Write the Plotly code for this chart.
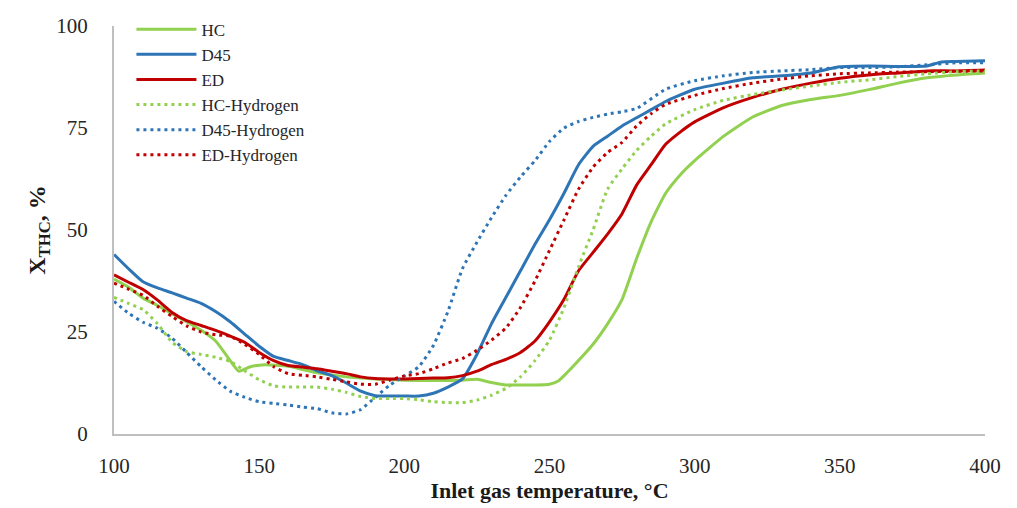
import plotly.graph_objects as go

# Inlet gas temperature (°C) and THC conversion (%) for each fuel
hc_t = [100, 105, 110, 115, 120, 125, 130, 135, 140, 143, 147, 152, 160, 170, 180, 190, 200, 210, 220, 225,
        230, 235, 240, 245, 250, 253, 256, 260, 265, 270, 275, 280, 285, 290, 295, 300, 310, 320, 330, 340,
        350, 360, 370, 380, 390, 400]
hc_x = [38, 36, 33.3, 31.5, 29.5, 27.5, 25.4, 22.8, 18, 15.4, 16.5, 17, 16.6, 15, 14, 13.5, 13.2, 13.1, 13.2, 13.4,
        12.6, 12, 12, 12, 12.2, 13, 15, 18, 22, 27, 33, 43, 52, 59, 63.5, 67, 73, 77.7, 80.5, 82,
        83, 84.4, 86, 87.3, 88, 88.5]

d45_t = [100, 105, 110, 115, 120, 125, 130, 135, 140, 145, 150, 155, 160, 165, 170, 175, 180, 185, 190, 195,
         200, 205, 210, 215, 220, 225, 230, 235, 240, 245, 250, 255, 260, 265, 270, 275, 280, 285, 290, 300,
         310, 320, 330, 340, 350, 360, 370, 380, 385, 390, 400]
d45_x = [44, 40.5, 37.3, 35.8, 34.6, 33.3, 32, 30, 27.5, 24.5, 21.5, 19, 18, 17, 15.5, 14.3, 12.5, 10.5, 9.4, 9.3,
         9.3, 9.3, 10, 11.5, 13.5, 19.5, 27, 33.5, 40, 46.5, 52.5, 59, 66, 70.5, 73, 75.5, 77.5, 79.5, 81.5, 84.5,
         86, 87.3, 87.8, 88.5, 90, 90.2, 90.1, 90.2, 91.2, 91.3, 91.5]

ed_t = [100, 105, 110, 115, 120, 125, 130, 135, 140, 145, 150, 155, 160, 165, 170, 175, 180, 185, 190, 195,
        200, 205, 210, 215, 220, 225, 230, 235, 240, 245, 250, 255, 260, 265, 270, 275, 280, 285, 290, 295,
        300, 310, 320, 330, 340, 350, 360, 370, 380, 390, 400]
ed_x = [39, 37.2, 35.4, 32.8, 29.8, 27.8, 26.6, 25.4, 24, 22.5, 20, 18, 16.8, 16.4, 16, 15.4, 14.8, 14, 13.6, 13.5,
        13.5, 13.6, 13.7, 13.8, 14.3, 15.4, 17, 18.3, 20, 22.8, 27.5, 33, 40, 44.5, 49, 54, 61, 66, 71, 74,
        76.5, 80, 82.5, 84.5, 86, 87.2, 88, 88.5, 89, 89, 89.2]

hch_t = [100, 105, 110, 115, 120, 125, 130, 135, 140, 145, 150, 155, 160, 165, 170, 175, 180, 185, 190, 195,
         200, 205, 210, 215, 220, 225, 230, 235, 240, 245, 250, 255, 260, 265, 270, 275, 280, 285, 290, 300,
         310, 320, 330, 340, 350, 360, 370, 380, 390, 400]
hch_x = [33.5, 32, 30.5, 27, 22.5, 20.2, 19.5, 18.8, 17.8, 15.5, 13.3, 11.8, 11.5, 11.5, 11.5, 11, 10.2, 9.2, 8.7, 8.7,
         8.7, 8.4, 7.9, 7.7, 7.7, 8.3, 9.5, 11.2, 14, 18, 23, 31, 41, 50, 60, 65, 69.5, 73, 76, 79.5,
         81.8, 83.2, 84.3, 85.3, 86.2, 86.8, 87.6, 88.3, 88.8, 89]

d45h_t = [100, 105, 110, 115, 120, 125, 130, 135, 140, 145, 150, 155, 160, 165, 170, 175, 180, 185, 190, 195,
          200, 205, 210, 215, 220, 225, 230, 235, 240, 245, 250, 255, 260, 265, 270, 275, 280, 290, 300, 310,
          320, 330, 340, 350, 360, 370, 380, 390, 400]
d45h_x = [32.5, 29.6, 27.4, 25.9, 23.5, 20, 16.5, 13.3, 10.5, 9, 7.9, 7.5, 7.1, 6.6, 6.2, 5.2, 4.9, 6, 9, 12,
          14.2, 16.5, 21.7, 30, 40.5, 47, 53, 58.5, 63, 67, 71.7, 75, 76.6, 77.6, 78.4, 79, 79.8, 84.5, 86.6, 87.8,
          88.6, 89, 89.3, 89.8, 89.8, 90, 90.5, 91, 91]

edh_t = [100, 105, 110, 115, 120, 125, 130, 135, 140, 145, 150, 155, 160, 165, 170, 175, 180, 185, 190, 195,
         200, 205, 210, 215, 220, 225, 230, 235, 240, 245, 250, 255, 260, 265, 270, 275, 280, 285, 290, 300,
         310, 320, 330, 340, 350, 360, 370, 380, 390, 400]
edh_x = [37, 35.5, 34, 31.3, 28.8, 26.5, 25, 24.3, 24, 22, 19.5, 16.5, 14.8, 14.4, 14, 13.4, 12.8, 12.2, 12.2, 13.2,
         14.2, 14.8, 16, 17.4, 18.5, 20.5, 23, 26, 31, 37.5, 45, 52.5, 60, 65.4, 69, 71.5, 75.5, 78.5, 80.8, 83,
         84.7, 86, 87, 87.8, 88.3, 88.5, 88.7, 88.8, 88.9, 89]

x_ticks = [100, 150, 200, 250, 300, 350, 400]
y_ticks = [0, 25, 50, 75, 100]

GREEN = "#92D050"
BLUE = "#2E75B6"
RED = "#C00000"
FONT = "Liberation Serif"
DOT = "3px,4px"

series = [
    ("HC", hc_t, hc_x, GREEN, "solid"),
    ("D45", d45_t, d45_x, BLUE, "solid"),
    ("ED", ed_t, ed_x, RED, "solid"),
    ("HC-Hydrogen", hch_t, hch_x, GREEN, DOT),
    ("D45-Hydrogen", d45h_t, d45h_x, BLUE, DOT),
    ("ED-Hydrogen", edh_t, edh_x, RED, DOT),
]

fig = go.Figure()
for name, t, x, color, dash in series:
    fig.add_trace(go.Scatter(
        x=t, y=x, name=name, mode="lines",
        line=dict(color=color, width=3, dash=dash, shape="spline", smoothing=0.5),
    ))

fig.update_layout(
    width=1017, height=508,
    margin=dict(l=114, r=32, t=17, b=70),
    paper_bgcolor="white", plot_bgcolor="white",
    font=dict(family=FONT, color="#262626", size=20),
    showlegend=True,
    legend=dict(
        x=0.02, y=1.035, xanchor="left", yanchor="top",
        bgcolor="rgba(0,0,0,0)", font=dict(family=FONT, size=17, color="#262626"),
        tracegroupgap=0, itemwidth=60,
    ),
)

fig.update_xaxes(
    range=[100, 400], tickvals=x_ticks, ticktext=[str(v) for v in x_ticks],
    showgrid=False, zeroline=False,
    showline=True, linecolor="#BFBFBF", linewidth=2,
    ticks="outside", ticklen=12, tickcolor="rgba(0,0,0,0)",
    tickfont=dict(family=FONT, size=21, color="#262626"),
    title=dict(text="<b>Inlet gas temperature, °C</b>", standoff=2,
               font=dict(family=FONT, size=22, color="#1a1a1a")),
)

fig.update_yaxes(
    range=[0, 100], tickvals=y_ticks, ticktext=[str(v) for v in y_ticks],
    showgrid=False, zeroline=False,
    showline=True, linecolor="#BFBFBF", linewidth=2,
    ticks="outside", ticklen=20, tickcolor="rgba(0,0,0,0)",
    tickfont=dict(family=FONT, size=21, color="#262626"),
    title=dict(text="<b>X<sub>THC</sub>, %</b>", standoff=4,
               font=dict(family=FONT, size=24, color="#1a1a1a")),
)

fig.write_html("out.html")
